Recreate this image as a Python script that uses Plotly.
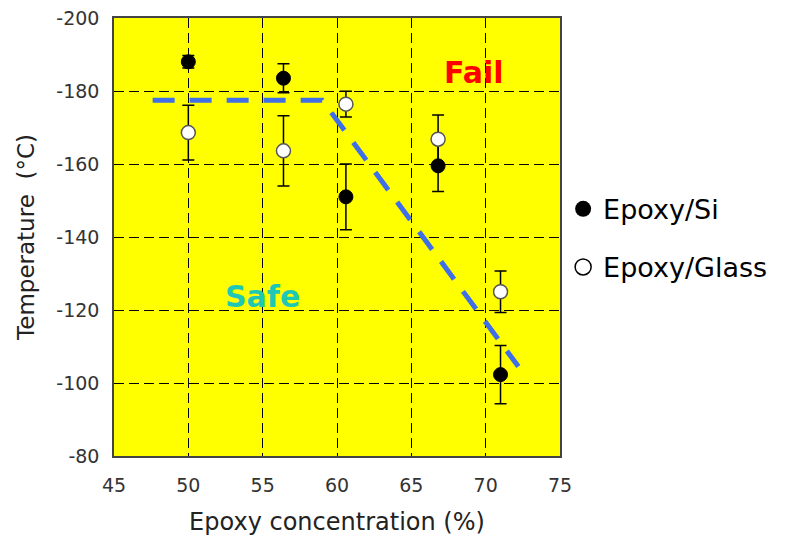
import plotly.graph_objects as go

# ---- data ----
conc = [50.0, 56.4, 60.6, 66.8, 71.0]
si_temp = [-188.0, -183.5, -151.0, -159.5, -102.3]
si_err = [1.7, 4.0, 9.0, 7.0, 8.0]
glass_temp = [-168.6, -163.6, -176.4, -166.8, -125.0]
glass_err = [7.5, 9.6, 3.5, 6.6, 5.7]
boundary_x = [47.6, 59.0, 72.2]
boundary_y = [-177.5, -177.5, -104.5]
x_ticks = [45, 50, 55, 60, 65, 70, 75]
x_tick_labels = ["45", "50", "55", "60", "65", "70", "75"]
y_ticks = [-200, -180, -160, -140, -120, -100, -80]
y_tick_labels = ["-200", "-180", "-160", "-140", "-120", "-100", "-80"]

FONT = "DejaVu Sans"

fig = go.Figure()

fig.add_trace(go.Scatter(
    x=conc, y=si_temp, mode="markers", name="Epoxy/Si", showlegend=False,
    marker=dict(symbol="circle", size=14, color="black", line=dict(color="black", width=1)),
    error_y=dict(type="data", array=si_err, visible=True, color="black", thickness=1.5, width=6),
))
fig.add_trace(go.Scatter(
    x=conc, y=glass_temp, mode="markers", name="Epoxy/Glass", showlegend=False,
    marker=dict(symbol="circle", size=14, color="white", line=dict(color="#555", width=1.5)),
    error_y=dict(type="data", array=glass_err, visible=True, color="black", thickness=1.5, width=6),
))
fig.add_trace(go.Scatter(
    x=boundary_x, y=boundary_y, mode="lines", showlegend=False, hoverinfo="skip",
    line=dict(color="#3f6fe8", width=5, dash="22px,15px"),
))

# legend-only entries (larger symbols as in the reference)
fig.add_trace(go.Scatter(
    x=[None], y=[None], mode="markers", name="Epoxy/Si", legendgroup="si",
    marker=dict(symbol="circle", size=19, color="black"),
))
fig.add_trace(go.Scatter(
    x=[None], y=[None], mode="markers", name="Epoxy/Glass", legendgroup="glass",
    marker=dict(symbol="circle", size=18, color="white", line=dict(color="black", width=1.5)),
))

fig.add_annotation(x=69.2, y=-185.2, text="<b>Fail</b>", showarrow=False,
                   font=dict(family=FONT, size=30, color="#ff0000"))
fig.add_annotation(x=55.0, y=-123.8, text="<b>Safe</b>", showarrow=False,
                   font=dict(family=FONT, size=30, color="#1ec8b4"))

axis_common = dict(
    showline=True, mirror=True, linecolor="#444", linewidth=1.5,
    showgrid=True, gridcolor="black", gridwidth=1.3, griddash="10px,5px",
    zeroline=False, ticks="outside", tickcolor="rgba(0,0,0,0)",
    tickfont=dict(family=FONT, size=19, color="#333"), automargin=False,
    ticklabeloverflow="allow",
)

fig.update_xaxes(range=[45, 75], tickvals=x_ticks, ticktext=x_tick_labels, ticklen=11,
                 title=dict(text="Epoxy concentration (%)", standoff=19,
                            font=dict(family=FONT, size=24, color="#222")),
                 **axis_common)
fig.update_yaxes(range=[-80, -200], tickvals=y_ticks, ticktext=y_tick_labels, ticklen=9,
                 title=dict(text="Temperature  (°C)", standoff=15,
                            font=dict(family=FONT, size=23, color="#222")),
                 **axis_common)

# the page body has an 8px default margin, so the figure is 8px smaller
fig.update_layout(
    width=780, height=531,
    margin=dict(l=106, r=228, t=10, b=83),
    plot_bgcolor="#ffff00", paper_bgcolor="white",
    font=dict(family=FONT),
    legend=dict(x=1.007, xanchor="left", y=0.497, yanchor="middle",
                font=dict(family=FONT, size=27, color="black"),
                tracegroupgap=20, bgcolor="rgba(0,0,0,0)"),
)

fig.write_html("out.html")
